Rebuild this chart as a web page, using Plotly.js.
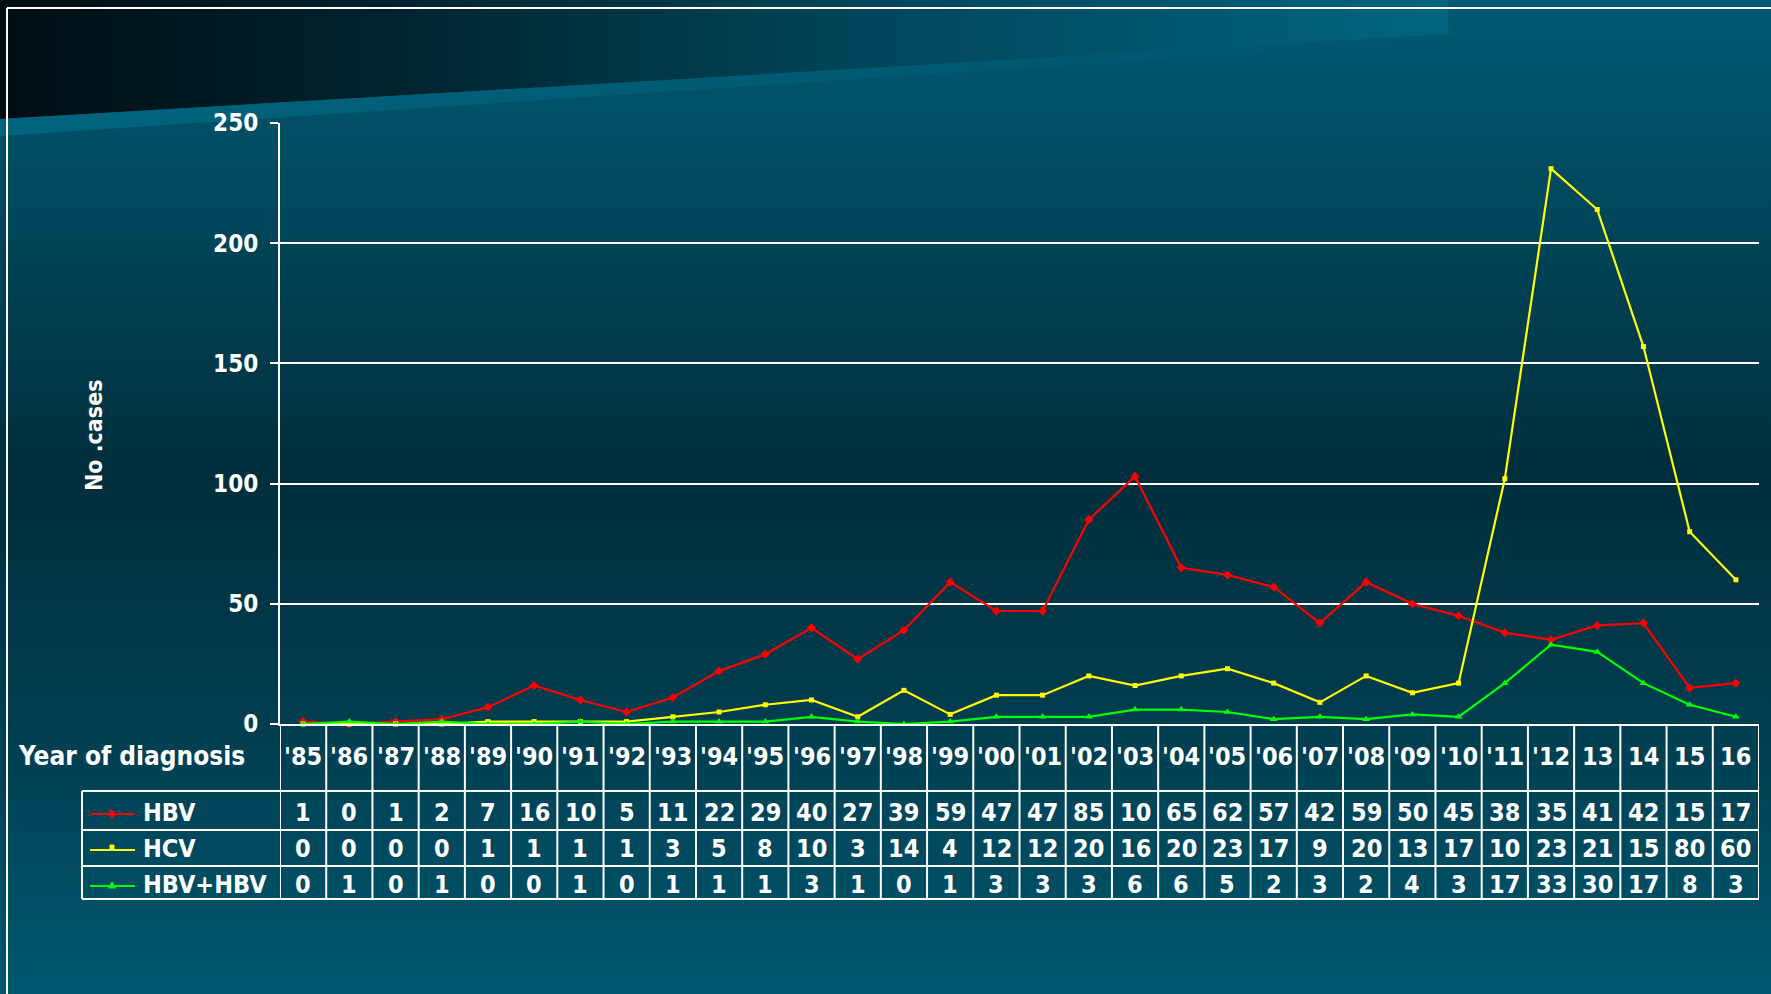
<!DOCTYPE html>
<html>
<head>
<meta charset="utf-8">
<script src="https://cdn.plot.ly/plotly-3.0.1.min.js"></script>
<style>
html,body{margin:0;padding:0;width:1771px;height:994px;overflow:hidden;background:#003a4b;}
#bg{position:absolute;left:0;top:0;z-index:0;}
#chart{position:absolute;left:0;top:0;width:1771px;height:994px;z-index:1;}
</style>
</head>
<body>
<svg id="bg" width="1771" height="994" xmlns="http://www.w3.org/2000/svg">
  <defs>
    <linearGradient id="main" x1="0" y1="0" x2="0" y2="1">
      <stop offset="0" stop-color="#005a72"/>
      <stop offset="0.18" stop-color="#004a5f"/>
      <stop offset="0.48" stop-color="#002e3c"/>
      <stop offset="0.75" stop-color="#003f52"/>
      <stop offset="1" stop-color="#00586f"/>
    </linearGradient>
    <linearGradient id="banner" x1="0" y1="0" x2="1" y2="0">
      <stop offset="0" stop-color="#000d12"/>
      <stop offset="0.25" stop-color="#00222c"/>
      <stop offset="0.6" stop-color="#00465a"/>
      <stop offset="1" stop-color="#00657e"/>
    </linearGradient>
    <linearGradient id="band" x1="0" y1="0" x2="1" y2="0">
      <stop offset="0" stop-color="#006580" stop-opacity="0.95"/>
      <stop offset="1" stop-color="#006580" stop-opacity="0"/>
    </linearGradient>
  </defs>
  <rect x="0" y="0" width="1771" height="994" fill="url(#main)"/>
  <polygon points="0,0 1448,0 1448,34 0,119" fill="url(#banner)"/>
  <polygon points="0,119 1448,34 1448,40 0,136" fill="url(#band)"/>
  <line x1="7" y1="8" x2="1771" y2="8" stroke="#ffffff" stroke-width="2"/>
  <line x1="7" y1="8" x2="7" y2="994" stroke="#ffffff" stroke-width="2"/>
</svg>
<div id="chart"></div>
<script>
// ---- data ----
const years = ["'85","'86","'87","'88","'89","'90","'91","'92","'93","'94","'95","'96","'97","'98","'99","'00","'01","'02","'03","'04","'05","'06","'07","'08","'09","'10","'11","'12","13","14","15","16"];
const hbv   = [1,0,1,2,7,16,10,5,11,22,29,40,27,39,59,47,47,85,103,65,62,57,42,59,50,45,38,35,41,42,15,17];
const hcv   = [0,0,0,0,1,1,1,1,3,5,8,10,3,14,4,12,12,20,16,20,23,17,9,20,13,17,102,231,214,157,80,60];
const combo = [0,1,0,1,0,0,1,0,1,1,1,3,1,0,1,3,3,3,6,6,5,2,3,2,4,3,17,33,30,17,8,3];
const seriesNames = ["HBV","HCV","HBV+HBV"];
const yTicks = [0,50,100,150,200,250];

// ---- styles ----
const colors = ["#ff0000","#ffff00","#00ff00"];
const symbols = ["diamond","square","triangle-up"];
const FONT = "'DejaVu Sans Condensed','Liberation Sans Narrow','Arial Narrow','DejaVu Sans',sans-serif";
const W = 1771, H = 994;
const L = 280, R = 1759, T = 123, B = 724;
const px = X => (X - L) / (R - L);
const py = Y => (B - Y) / (B - T);
const white = '#ffffff';

const seriesData = [hbv, hcv, combo];
const xIdx = years.map((_, i) => i);
const traces = seriesData.map((d, i) => ({
  type: 'scatter', mode: 'lines+markers', x: xIdx, y: d, name: seriesNames[i],
  line: {color: colors[i], width: 2.2},
  marker: {color: colors[i], symbol: symbols[i], size: [7, 5, 7][i]},
  cliponaxis: false, hoverinfo: 'skip'
}));

const shapes = [];
const annotations = [];
// column separators (header + data rows)
for (let k = 0; k <= years.length; k++) {
  shapes.push({type:'line', xref:'x', yref:'paper', x0:k-0.5, x1:k-0.5, y0:py(724), y1:py(899),
    line:{color:white, width:2}});
}
// row separators
[791, 830, 866, 899].forEach(Y => {
  shapes.push({type:'line', xref:'paper', yref:'paper', x0:px(82), x1:px(1759), y0:py(Y), y1:py(Y),
    line:{color:white, width:2}});
});
// legend box left border
shapes.push({type:'line', xref:'paper', yref:'paper', x0:px(82), x1:px(82), y0:py(791), y1:py(899),
  line:{color:white, width:2}});

// header labels
years.forEach((y, j) => annotations.push({xref:'x', yref:'paper', x:j, y:py(756), text:y,
  showarrow:false, font:{family:FONT, size:25, color:white, weight:'bold'}, xanchor:'center', yanchor:'middle'}));
annotations.push({xref:'paper', yref:'paper', x:px(16), y:py(756), text:'Year of diagnosis',
  showarrow:false, font:{family:FONT, size:26, color:white, weight:'bold'}, xanchor:'left', yanchor:'middle'});

// data rows (cell text clipped to 2 characters as in the source table)
const rowY = [812, 848, 884];
seriesData.forEach((d, i) => {
  d.forEach((v, j) => annotations.push({xref:'x', yref:'paper', x:j, y:py(rowY[i]),
    text:String(v).slice(0,2), showarrow:false,
    font:{family:FONT, size:25, color:white, weight:'bold'}, xanchor:'center', yanchor:'middle'}));
  // legend sample line
  const ly = rowY[i] + 2;
  shapes.push({type:'line', xref:'paper', yref:'paper', x0:px(90), x1:px(135), y0:py(ly), y1:py(ly),
    line:{color:colors[i], width:2.2}});
  // legend sample marker
  const mx = 112;
  if (i === 0) {
    shapes.push({type:'path', xref:'paper', yref:'paper',
      path:`M ${px(mx-4)} ${py(ly)} L ${px(mx)} ${py(ly-4)} L ${px(mx+4)} ${py(ly)} L ${px(mx)} ${py(ly+4)} Z`,
      fillcolor:colors[i], line:{color:colors[i], width:1}});
  } else if (i === 1) {
    shapes.push({type:'rect', xref:'paper', yref:'paper', x0:px(mx-2), x1:px(mx+2), y0:py(ly-5), y1:py(ly),
      fillcolor:colors[i], line:{color:colors[i], width:1}});
  } else {
    shapes.push({type:'path', xref:'paper', yref:'paper',
      path:`M ${px(mx-4)} ${py(ly+2)} L ${px(mx+4)} ${py(ly+2)} L ${px(mx)} ${py(ly-4)} Z`,
      fillcolor:colors[i], line:{color:colors[i], width:1}});
  }
  annotations.push({xref:'paper', yref:'paper', x:px(141), y:py(rowY[i]), text:seriesNames[i],
    showarrow:false, font:{family:FONT, size:25, color:white, weight:'bold'}, xanchor:'left', yanchor:'middle'});
});

// y-axis title
annotations.push({xref:'paper', yref:'paper', x:px(94), y:py(435), text:'No .cases', textangle:-90,
  showarrow:false, font:{family:FONT, size:23, color:white, weight:'bold'}, xanchor:'center', yanchor:'middle'});

const layout = {
  width: W, height: H,
  margin: {l: L, r: W - R, t: T, b: H - B, pad: 0},
  paper_bgcolor: 'rgba(0,0,0,0)', plot_bgcolor: 'rgba(0,0,0,0)',
  showlegend: false,
  xaxis: {range:[-0.5, years.length - 0.5], showgrid:false, zeroline:false,
    showticklabels:false, ticks:'', showline:true, linecolor:white, linewidth:2, fixedrange:true},
  yaxis: {range:[0,250], tickvals:yTicks, showgrid:true, gridcolor:white, gridwidth:2, zeroline:false,
    showline:true, linecolor:white, linewidth:2, ticks:'outside', ticklen:8, tickcolor:white, tickwidth:2,
    tickfont:{family:FONT, size:24, color:white, weight:'bold'}, ticklabelstandoff:7, fixedrange:true},
  shapes: shapes,
  annotations: annotations
};
Plotly.newPlot('chart', traces, layout, {displayModeBar:false, staticPlot:true});
</script>
</body>
</html>
